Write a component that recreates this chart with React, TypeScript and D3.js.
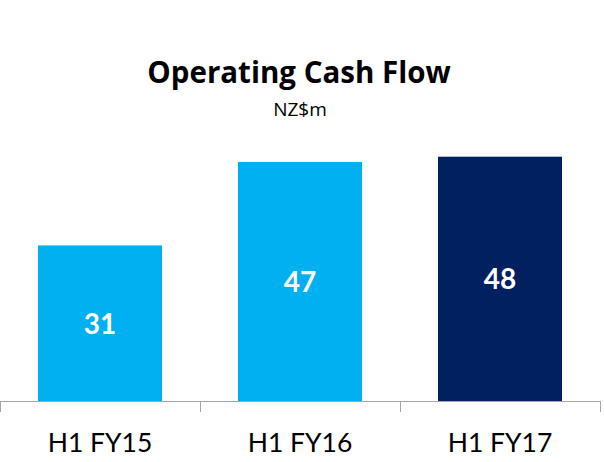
import * as d3 from "d3";

const categories = ["H1 FY15", "H1 FY16", "H1 FY17"];
const values = [31, 47, 48];
const barColors = ["#00B0F0", "#00B0F0", "#002060"];

function App() {
  const width = 604;
  const height = 462;
  const baseY = 401.5;

  const x = d3.scaleBand<string>()
    .domain(categories)
    .range([0, 600])
    .paddingInner(0.38)
    .paddingOuter(0.19);

  // axis does not start at zero in the original
  const y = d3.scaleLinear()
    .domain([1.1, 48])
    .range([baseY, 156.7]);

  const step = x.step();
  const tickXs = d3.range(categories.length + 1).map((i) => i * step + 0.5);

  return (
    <svg width={width} height={height} style={{position: "absolute", left: 0, top: 0}}
         fontFamily="Lato, 'Open Sans', sans-serif">
      <rect width={width} height={height} fill="white"/>
      <text x={299} y={83} textAnchor="middle" fontWeight="bold" fontSize={29.5} fill="#000"
            fontFamily="'Open Sans', sans-serif">
        Operating Cash Flow
      </text>
      <text x={300} y={116} textAnchor="middle" fontSize={19} fill="#000"
            fontFamily="'Open Sans', sans-serif">NZ$m</text>

      {values.map((v, i) => (
        <g key={i}>
          <rect x={x(categories[i])} y={y(v)} width={x.bandwidth()} height={baseY - y(v)}
                fill={barColors[i]}/>
          <text x={(x(categories[i]) as number) + x.bandwidth() / 2}
                y={(y(v) + baseY) / 2} dy="0.36em" textAnchor="middle"
                fontWeight="bold" fontSize={28} fill="white">{v}</text>
        </g>
      ))}

      <line x1={0} x2={601} y1={baseY} y2={baseY} stroke="#A6A6A6" strokeWidth={1}/>
      {tickXs.map((tx, i) => (
        <line key={i} x1={tx} x2={tx} y1={baseY} y2={412} stroke="#A6A6A6" strokeWidth={1}/>
      ))}
      {categories.map((c) => (
        <text key={c} x={(x(c) as number) + x.bandwidth() / 2} y={452} textAnchor="middle"
              fontSize={26.5} fill="#000">{c}</text>
      ))}
    </svg>
  );
}

export default App;
